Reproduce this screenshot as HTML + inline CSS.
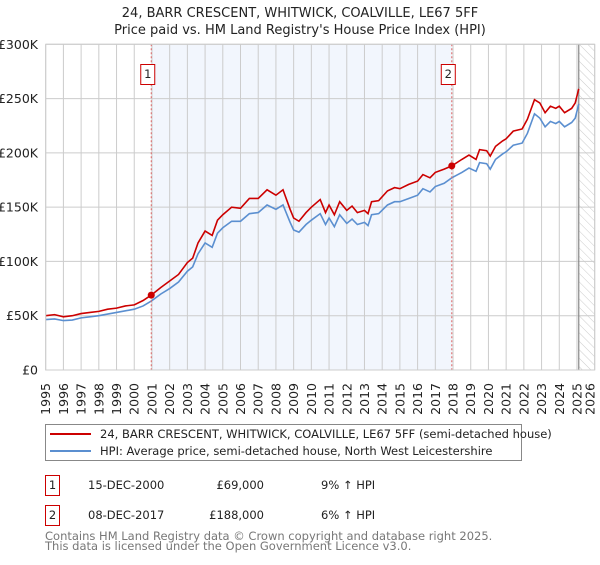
<!DOCTYPE html>
<html><head><meta charset="utf-8"><style>
body{margin:0;background:#fff;}
svg text{font-family:"DejaVu Sans","Liberation Sans",sans-serif;}
</style></head><body>
<svg id="chart" width="600" height="560" xmlns="http://www.w3.org/2000/svg">
<defs><pattern id="hatch" width="6" height="6" patternUnits="userSpaceOnUse" patternTransform="rotate(-45)"><line x1="0" y1="0" x2="0" y2="6" stroke="#ccc" stroke-width="1"/></pattern></defs>
<text x="300" y="17" text-anchor="middle" font-size="13" fill="#222">24, BARR CRESCENT, WHITWICK, COALVILLE, LE67 5FF</text>
<text x="300" y="34" text-anchor="middle" font-size="13" fill="#222">Price paid vs. HM Land Registry's House Price Index (HPI)</text>
<g id="plot"></g>
<g>
<rect x="45.5" y="424.5" width="476" height="36" fill="#fff" stroke="#888"/>
<line x1="50" y1="434" x2="91" y2="434" stroke="#cc0000" stroke-width="2"/>
<text x="100" y="438" font-size="11.5" fill="#222">24, BARR CRESCENT, WHITWICK, COALVILLE, LE67 5FF (semi-detached house)</text>
<line x1="50" y1="451" x2="91" y2="451" stroke="#5b8fd0" stroke-width="2"/>
<text x="100" y="455" font-size="11.5" fill="#222">HPI: Average price, semi-detached house, North West Leicestershire</text>
</g>
<g font-size="11.5" fill="#222">
<rect x="45.5" y="475.5" width="14" height="20" fill="none" stroke="#cc0000"/>
<text x="52.5" y="489" text-anchor="middle">1</text>
<text x="88" y="489">15-DEC-2000</text>
<text x="264" y="489" text-anchor="end">£69,000</text>
<text x="321" y="489">9% ↑ HPI</text>
<rect x="45.5" y="505.5" width="14" height="20" fill="none" stroke="#cc0000"/>
<text x="52.5" y="519" text-anchor="middle">2</text>
<text x="88" y="519">08-DEC-2017</text>
<text x="264" y="519" text-anchor="end">£188,000</text>
<text x="321" y="519">6% ↑ HPI</text>
</g>
<g font-size="11.5" fill="#777">
<text x="45" y="540">Contains HM Land Registry data © Crown copyright and database right 2025.</text>
<text x="45" y="550">This data is licensed under the Open Government Licence v3.0.</text>
</g>
</svg>
<script>
const yearTicks=[1995,1996,1997,1998,1999,2000,2001,2002,2003,2004,2005,2006,2007,2008,2009,2010,2011,2012,2013,2014,2015,2016,2017,2018,2019,2020,2021,2022,2023,2024,2025,2026];
const valueTicks=[0,50,100,150,200,250,300];
const valueLabels=["£0","£50K","£100K","£150K","£200K","£250K","£300K"];
const redYears=[1995,1995.5,1996,1996.5,1997,1997.5,1998,1998.5,1999,1999.5,2000,2000.5,2000.96,2001.5,2002,2002.5,2003,2003.3,2003.6,2004,2004.4,2004.7,2005,2005.5,2006,2006.5,2007,2007.5,2008,2008.4,2008.8,2009,2009.3,2009.7,2010,2010.5,2010.8,2011,2011.3,2011.6,2012,2012.3,2012.6,2013,2013.2,2013.4,2013.8,2014.3,2014.7,2015,2015.5,2016,2016.3,2016.7,2017,2017.5,2017.93,2018.5,2018.9,2019.3,2019.5,2019.9,2020.1,2020.4,2020.8,2021,2021.4,2021.9,2022.2,2022.6,2022.9,2023.2,2023.5,2023.8,2024,2024.3,2024.7,2024.9,2025.1];
const redValues=[50,51,49,50,52,53,54,56,57,59,60,64,69,76,82,88,99,103,117,128,124,138,143,150,149,158,158,166,161,166,148,140,137,145,150,157,145,152,143,155,147,151,145,147,144,155,156,165,168,167,171,174,180,177,182,185,188,194,198,194,203,202,197,206,211,213,220,222,231,249,246,237,243,241,243,237,241,246,259];
const blueValues=[46.5,47,45.5,46,48,49,50,51.5,53,54.5,56,59,63.5,70,75,81,91,95,107,117,113,126,131,137,137,144,145,152,148,152,136,129,127,134,138,144,134,140,132,143,135,139,134,136,133,143,144,152,155,155,158,161,167,164,169,172,177,182,186,183,191,190,185,194,199,201,207,209,218,236,232,224,229,227,229,224,228,232,245];
const sales=[{n:"1",year:2000.96,value:69},{n:"2",year:2017.93,value:188}];
const x0=45.7,x1=594.7,yTop=44.3,yBot=370;
function xs(t){return x0+(t-1995)/(2026-1995)*(x1-x0);}
function ys(v){return yBot-v/300*(yBot-yTop);}
const NS="http://www.w3.org/2000/svg";
const g=document.getElementById('plot');
function mk(tag,attrs,parent){const e=document.createElementNS(NS,tag);for(const k in attrs)e.setAttribute(k,attrs[k]);(parent||g).appendChild(e);return e;}
let r=mk('rect',{x:x0,y:yTop,width:x1-x0,height:yBot-yTop,fill:'#fff'});


let sh=mk('rect',{x:xs(sales[0].year),y:yTop,width:xs(sales[1].year)-xs(sales[0].year),height:yBot-yTop,fill:'#f2f6fd'});


let ht=mk('rect',{x:xs(2025.1),y:yTop,width:x1-xs(2025.1),height:yBot-yTop,fill:'url(#hatch)'});


yearTicks.forEach(t=>{const X=xs(t);
 const l=mk('line',{x1:X,y1:yTop,x2:X,y2:yBot,stroke:'#ccc','stroke-width':1});
 
 
 const lx=Math.min(X,590)+4.5;
 const tx=mk('text',{x:0,y:0,transform:`translate(${lx},383) rotate(-90)`,'text-anchor':'end','font-size':12.5,fill:'#222'});
 tx.textContent=t;
 
 
});
valueTicks.forEach((v,i)=>{const Y=ys(v);
 const l=mk('line',{x1:x0,y1:Y,x2:x1,y2:Y,stroke:'#ccc','stroke-width':1});
 
 
 const tx=mk('text',{x:38,y:Y+4.5,'text-anchor':'end','font-size':12.5,fill:'#222'});
 tx.textContent=valueLabels[i];
 
 
});
let nl=mk('line',{x1:xs(2025.1),y1:yTop,x2:xs(2025.1),y2:yBot,stroke:'#888','stroke-width':1.2});


let bp=mk('polyline',{points:redYears.map((t,i)=>xs(t)+','+ys(blueValues[i])).join(' '),fill:'none',stroke:'#5b8fd0','stroke-width':1.6});


let rp=mk('polyline',{points:redYears.map((t,i)=>xs(t)+','+ys(redValues[i])).join(' '),fill:'none',stroke:'#cc0000','stroke-width':1.6});


sales.forEach(s=>{const X=xs(s.year);
 const d=mk('line',{x1:X,y1:yTop,x2:X,y2:yBot,stroke:'#e06666','stroke-width':1,'stroke-dasharray':'2,2'});
 
 
 const c=mk('circle',{cx:X,cy:ys(s.value),r:3.5,fill:'#cc0000'});
 
 
 const b=mk('rect',{x:X-10.5,y:64.5,width:14,height:20,fill:'#fff',stroke:'#cc0000'});
 
 
 const t=mk('text',{x:X-3.5,y:78,'text-anchor':'middle','font-size':11.5,fill:'#222'});
 t.textContent=s.n;
 
 
});
let fr=mk('rect',{x:x0,y:yTop,width:x1-x0,height:yBot-yTop,fill:'none',stroke:'#ccc'});


</script>
</body></html>
